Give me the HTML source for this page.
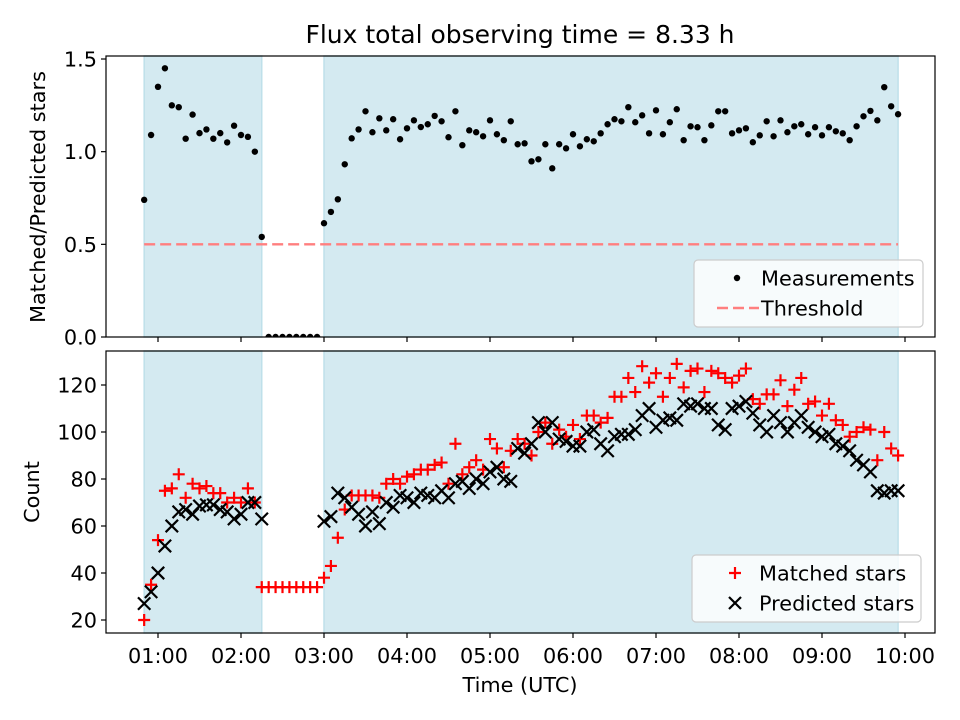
<!DOCTYPE html>
<html><head><meta charset="utf-8"><style>
body{margin:0;background:#fff}
svg{display:block;font-family:"DejaVu Sans","Liberation Sans",sans-serif}
</style></head><body>
<svg id="chart" width="960" height="720" viewBox="0 0 960 720" xmlns="http://www.w3.org/2000/svg">
<text x="520" y="43" font-size="25" text-anchor="middle" fill="#000">Flux total observing time = 8.33 h</text>
<g id="topPanel"></g>
<g id="botPanel"></g>
<text transform="translate(45,197) rotate(-90)" font-size="20.8" text-anchor="middle">Matched/Predicted stars</text>
<text transform="translate(39,492) rotate(-90)" font-size="20.8" text-anchor="middle">Count</text>
<text x="520" y="692" font-size="20.8" text-anchor="middle">Time (UTC)</text>
</svg>
<script>
const times = ["00:50","00:55","01:00","01:05","01:10","01:15","01:20","01:25","01:30","01:35","01:40","01:45","01:50","01:55","02:00","02:05","02:10","02:15",
"02:20","02:25","02:30","02:35","02:40","02:45","02:50","02:55",
"03:00","03:05","03:10","03:15","03:20","03:25","03:30","03:35","03:40","03:45","03:50","03:55","04:00","04:05","04:10","04:15","04:20","04:25","04:30","04:35","04:40","04:45","04:50","04:55",
"05:00","05:05","05:10","05:15","05:20","05:25","05:30","05:35","05:40","05:45","05:50","05:55","06:00","06:05","06:10","06:15","06:20","06:25","06:30","06:35","06:40","06:45","06:50","06:55",
"07:00","07:05","07:10","07:15","07:20","07:25","07:30","07:35","07:40","07:45","07:50","07:55","08:00","08:05","08:10","08:15","08:20","08:25","08:30","08:35","08:40","08:45","08:50","08:55",
"09:00","09:05","09:10","09:15","09:20","09:25","09:30","09:35","09:40","09:45","09:50","09:55"];
const ratio = [0.74,1.09,1.35,1.45,1.25,1.24,1.07,1.20,1.10,1.12,1.07,1.10,1.05,1.14,1.09,1.08,1.00,0.54,
0,0,0,0,0,0,0,0,
0.614,0.675,0.743,0.932,1.072,1.12,1.218,1.105,1.18,1.115,1.175,1.067,1.126,
1.169,1.133,1.148,1.193,1.164,1.078,1.218,1.035,1.115,1.105,1.083,1.169,1.094,1.062,1.164,1.04,1.045,0.948,0.959,1.04,0.91,1.04,1.018,1.094,1.029,1.067,1.056,1.099,1.148,1.175,1.164,1.24,1.159,1.196,1.099,1.223,1.094,1.159,
1.229,1.062,1.137,1.132,1.062,1.142,1.218,1.218,1.099,1.115,1.126,1.051,1.088,1.164,1.083,1.169,1.105,1.137,1.148,1.094,1.132,1.088,1.132,1.11,1.099,1.062,1.137,1.191,1.22,1.169,1.348,1.245,1.202];
const matched = [20,35,54,75,76,82,72,78,76,77,74,74,70,72,70,76,70,34,
34,34,34,34,34,34,34,34,
38,43,55,67,73,73,73,73,72,78,80,78,81,82,84,84,86,87,78,95,82,85,88,84,97,93,85,92,97,95,
90,100,104,95,101,98,103,97,107,107,104,106,115,115,123,117,128,121,125,115,123,129,119,126,127,117,126,125,123,121,
124,127,114,112,116,116,122,111,118,123,112,113,107,112,105,103,98,100,102,101,88,100,93,90];
const predicted = [27,32,40,51.5,60,66,67,65,68.5,69,69,67,66,63,65,70,70,63,
null,null,null,null,null,null,null,null,
62,64,74,72,68,65,60,66,61,70,68,73,72,70,74,73,72,75,72,78,79,76,80,78,83,85,80,79,93,91,
95,104,100,104,97,96,94,94,100,101,95,92,98,99,99,101,107,110,102,105,106,105,112,111,112,110,110,103,101,110,
111,113,108,103,100,107,104,100,104,107,102,100,98,99,95,94,92,88,86,83,75,74,75,75];
const threshold = 0.5;
const spans = [["00:50","02:15"],["03:00","09:55"]];
const xTicks = ["01:00","02:00","03:00","04:00","05:00","06:00","07:00","08:00","09:00","10:00"];
const ratioTicks = [0, 0.5, 1.0, 1.5];
const countTicks = [20, 40, 60, 80, 100, 120];

const NS = "http://www.w3.org/2000/svg";
const L = 106, R = 935;
const TOPBOX = {t:56, b:337}, BOTBOX = {t:351, b:633};
function mins(s){const p=s.split(":");return +p[0]*60+ +p[1];}
function xs(s){return 158 + (mins(s)-60)*83/60;}
function yr(v){return 337 - v*185.33;}
function yc(v){return 620 - (v-20)*2.35;}
function el(tag, attrs, parent){const e=document.createElementNS(NS,tag);for(const k in attrs)e.setAttribute(k,attrs[k]);parent.appendChild(e);return e;}

function panel(g, box, yfun, ticks, fmt, showLabels){
  const clip = el("clipPath",{id:"c"+box.t},g);
  el("rect",{x:L,y:box.t,width:R-L,height:box.b-box.t},clip);
  spans.forEach(sp=>{
    const r = el("rect",{x:xs(sp[0]),y:box.t,width:xs(sp[1])-xs(sp[0]),height:box.b-box.t,fill:"#d4eaf1",stroke:"#bfe0ea","stroke-width":1.5},g);
    
    
  });
  xTicks.forEach(t=>{
    const x = xs(t);
    const tk = el("line",{x1:x,x2:x,y1:box.b,y2:box.b+5,stroke:"#000","stroke-width":1.2},g);
    
    
    if(showLabels){
      const tx = el("text",{x:x,y:box.b+30,"font-size":20.8,"text-anchor":"middle"},g);
      tx.textContent = t;
      
      
    }
  });
  ticks.forEach(v=>{
    const y = yfun(v);
    const tk = el("line",{x1:L-5,x2:L,y1:y,y2:y,stroke:"#000","stroke-width":1.2},g);
    
    
    const tx = el("text",{x:L-9,y:y+7.5,"font-size":20.8,"text-anchor":"end"},g);
    tx.textContent = fmt(v);
    
    
  });
}

const topG = document.getElementById("topPanel");
panel(topG, TOPBOX, yr, ratioTicks, v=>v.toFixed(1), false);
const th = el("line",{x1:xs(spans[0][0]),x2:xs(spans[1][1]),y1:yr(threshold),y2:yr(threshold),stroke:"#ff7f7f","stroke-width":2.4,"stroke-dasharray":"11,5"},topG);


const tg = el("g",{"clip-path":"url(#c56)"},topG);
times.forEach((t,i)=>{
  const c = el("circle",{cx:xs(t),cy:yr(ratio[i]),r:3.2,fill:"#000"},tg);
  
  
});
const tf = el("rect",{x:L,y:TOPBOX.t,width:R-L,height:TOPBOX.b-TOPBOX.t,fill:"none",stroke:"#000","stroke-width":1.2},topG);



const botG = document.getElementById("botPanel");
panel(botG, BOTBOX, yc, countTicks, v=>String(v), true);
times.forEach((t,i)=>{
  const x = xs(t), y = yc(matched[i]);
  const p = el("path",{d:`M${x-6},${y}H${x+6}M${x},${y-6}V${y+6}`,stroke:"#ff0000","stroke-width":2.2,fill:"none"},botG);
  
  
});
times.forEach((t,i)=>{
  if(predicted[i]===null) return;
  const x = xs(t), y = yc(predicted[i]), d=6.2;
  const p = el("path",{d:`M${x-d},${y-d}L${x+d},${y+d}M${x-d},${y+d}L${x+d},${y-d}`,stroke:"#000","stroke-width":2.2,fill:"none"},botG);
  
  
});
const bf = el("rect",{x:L,y:BOTBOX.t,width:R-L,height:BOTBOX.b-BOTBOX.t,fill:"none",stroke:"#000","stroke-width":1.2},botG);



function legend(parent, x, y, items, name){
  const g = el("g",{},parent);
  
  
  el("rect",{x:x,y:y,width:229,height:67,rx:4,fill:"rgba(255,255,255,0.8)",stroke:"#cccccc","stroke-width":1.2},g);
  items.forEach((it,k)=>{
    const cy = y+18+k*30;
    const mx = x+29;
    if(it.type==="dot") el("circle",{cx:mx+14,cy:cy,r:3.2,fill:"#000"},g);
    if(it.type==="dash") el("line",{x1:mx-6,x2:mx+36,y1:cy,y2:cy,stroke:"#ff7f7f","stroke-width":2.4,"stroke-dasharray":"11,5"},g);
    if(it.type==="plus") el("path",{d:`M${mx+8},${cy}H${mx+20}M${mx+14},${cy-6}V${cy+6}`,stroke:"#f00","stroke-width":2.2},g);
    if(it.type==="x") el("path",{d:`M${mx+8},${cy-6}L${mx+20},${cy+6}M${mx+8},${cy+6}L${mx+20},${cy-6}`,stroke:"#000","stroke-width":2.2},g);
    const tx = el("text",{x:x+67,y:cy+7.5,"font-size":20.8},g);
    tx.textContent = it.label;
    
    
  });
}
legend(topG, 694, 260, [{type:"dot",label:"Measurements"},{type:"dash",label:"Threshold"}], "ratio-legend");
legend(botG, 692, 555, [{type:"plus",label:"Matched stars"},{type:"x",label:"Predicted stars"}], "count-legend");
</script>
</body></html>
